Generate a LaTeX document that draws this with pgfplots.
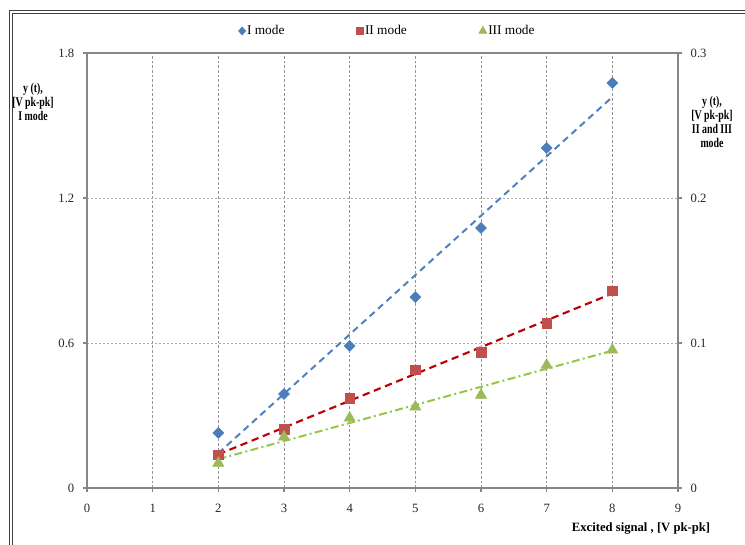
\documentclass[border=0pt]{standalone}
\usepackage{pgfplots}
\pgfplotsset{compat=1.18}
\usepackage{fontspec}
\setmainfont{Liberation Serif}
\definecolor{bmark}{HTML}{4A7EBB}
\definecolor{bline}{HTML}{4F81BD}
\definecolor{rmark}{HTML}{C0504D}
\definecolor{rline}{HTML}{C00000}
\definecolor{gmark}{HTML}{9BBB59}
\definecolor{gline}{HTML}{92C74A}
\definecolor{axgray}{HTML}{868686}
\begin{document}
\begin{tikzpicture}
\useasboundingbox (0,0) rectangle (558.75pt,408.75pt);
% outer chart frame (double line)
\draw[black!75, line width=0.6pt] (7.0pt,401.25pt) -- (570pt,401.25pt);
\draw[black!75, line width=0.6pt] (9.25pt,399.0pt) -- (570pt,399.0pt);
\draw[black!75, line width=0.6pt] (7.0pt,401.25pt) -- (7.0pt,-10pt);
\draw[black!75, line width=0.6pt] (9.25pt,399.0pt) -- (9.25pt,-10pt);
\pgfplotsset{
  every axis/.append style={
    scale only axis, width=443.25pt, height=326.25pt,
    at={(65.25pt,42.75pt)}, anchor=south west,
    xmin=0, xmax=9,
    axis line style={axgray, line width=1.1pt},
    tick style={axgray, line width=0.8pt},
    major tick length=3pt,
    tick label style={font=\fontsize{9.5}{11}\selectfont, black!85},
    /pgf/number format/assume math mode=true,
    /pgf/number format/fixed,
  },
}
\begin{axis}[
  ymin=0, ymax=1.8,
  xtick={0,...,9}, ytick={0,0.6,1.2,1.8},
  yticklabels={0,0.6,1.2,1.8},
  tick align=outside,
  xtick pos=bottom, ytick pos=left,
  xmajorgrids, ymajorgrids,
  x grid style={gray!85, line width=0.6pt, dash pattern=on 2pt off 1.5pt},
  y grid style={gray!65, line width=0.6pt, dash pattern=on 1.5pt off 1.5pt},
  yticklabel style={xshift=-3pt},
  xticklabel style={yshift=-5.5pt},
  legend columns=3,
  legend style={at={(0.508,1.0506)}, anchor=center, draw=none, fill=none,
    font=\fontsize{10}{11}\selectfont, inner sep=0pt,
    nodes={inner xsep=1pt},
    /tikz/every even column/.append style={column sep=53pt}},
  legend cell align=left,
  legend image code/.code={\draw[#1] plot coordinates {(0.1cm,0cm)};},
  clip=false,
]
\addplot[bline, line width=1.5pt, dash pattern=on 5pt off 3.5pt, forget plot] coordinates {(2,0.144) (8,1.618)};
\addplot[only marks, mark=diamond*, mark size=4.1pt, mark options={xscale=1.33}, color=bmark, forget plot] coordinates {
(2,0.228) (3,0.389) (4,0.588) (5,0.790) (6,1.076) (7,1.407) (8,1.676)};
\addlegendimage{only marks, mark=diamond*, mark size=3pt, mark options={xscale=1.2}, color=bmark}
\addlegendentry{I mode}
\addlegendimage{only marks, mark=square*, mark size=2.7pt, color=rmark}
\addlegendentry{II mode}
\addlegendimage{only marks, mark=triangle*, mark size=3.5pt, color=gmark}
\addlegendentry{III mode}
\end{axis}
\begin{axis}[
  axis y line*=right, axis x line=none,
  ymin=0, ymax=0.3,
  ytick={0,0.1,0.2,0.3},
  yticklabels={0,0.1,0.2,0.3},
  tick align=outside, ytick pos=right,
  yticklabel style={xshift=3pt},
  clip=false,
]
\addplot[rline, line width=1.6pt, dash pattern=on 5.5pt off 3.5pt] coordinates {(2,0.0232) (8,0.1341)};
\addplot[gline, line width=1.5pt, dash pattern=on 6pt off 2.5pt on 1.5pt off 2.5pt] coordinates {(2,0.0199) (8,0.0947)};
\addplot[only marks, mark=square*, mark size=3.6pt, color=rmark] coordinates {
(2,0.0228) (3,0.0407) (4,0.0620) (5,0.0814) (6,0.0938) (7,0.1138) (8,0.1359)};
\addplot[only marks, mark=triangle*, mark size=4.8pt, color=gmark] coordinates {
(2,0.0172) (3,0.0352) (4,0.0483) (5,0.0559) (6,0.0641) (7,0.0848) (8,0.0952)};
\end{axis}
\node[align=center, font=\bfseries\fontsize{10}{10.5}\selectfont, xscale=0.74, transform shape] at (24.75pt,332.25pt) {y (t),\\{}[V pk-pk]\\I mode};
\node[align=center, font=\bfseries\fontsize{10}{10.5}\selectfont, xscale=0.74, transform shape] at (534pt,317.25pt) {y (t),\\{}[V pk-pk]\\II and III\\mode};
\node[font=\bfseries\fontsize{9.5}{11}\selectfont] at (480.75pt,12pt) {Excited signal , [V pk-pk]};
\end{tikzpicture}
\end{document}
